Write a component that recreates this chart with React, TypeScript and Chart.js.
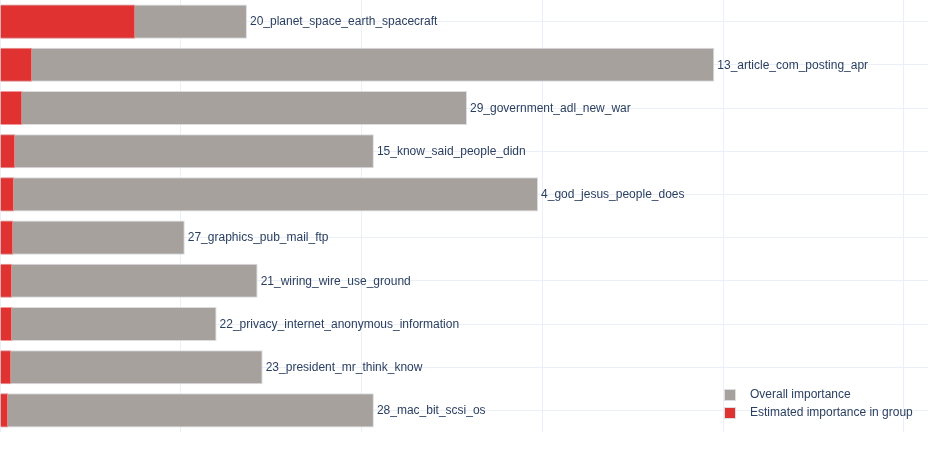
import React, { useEffect, useRef } from "react";
import { Chart, registerables } from "chart.js";

Chart.register(...registerables);

const topics = [
  "20_planet_space_earth_spacecraft",
  "13_article_com_posting_apr",
  "29_government_adl_new_war",
  "15_know_said_people_didn",
  "4_god_jesus_people_does",
  "27_graphics_pub_mail_ftp",
  "21_wiring_wire_use_ground",
  "22_privacy_internet_anonymous_information",
  "23_president_mr_think_know",
  "28_mac_bit_scsi_os",
];

const overallImportance = [0.1366, 0.3951, 0.2583, 0.2068, 0.2976, 0.1022, 0.1425, 0.1198, 0.1453, 0.2068];
const groupImportance = [0.0748, 0.0178, 0.0123, 0.0084, 0.0078, 0.0073, 0.0067, 0.0067, 0.0062, 0.0045];

const xTicks = [0, 0.1, 0.2, 0.3, 0.4, 0.5];
const xMax = 0.5133;

const GRAY = "rgb(166,161,156)";
const RED = "rgb(225,50,50)";
const TEXT = "#2a3f5f";
const FONT = '12px "Liberation Sans", Arial, sans-serif';

const labelPlugin = {
  id: "barLabels",
  afterDatasetsDraw(chart: any) {
    const ctx = chart.ctx;
    const xs = chart.scales.x;
    const ys = chart.scales.y;
    ctx.save();
    ctx.font = FONT;
    ctx.fillStyle = TEXT;
    ctx.textBaseline = "middle";
    ctx.textAlign = "left";
    topics.forEach((t, i) => {
      const x = xs.getPixelForValue(overallImportance[i]) + 3;
      const y = ys.getPixelForValue(i);
      ctx.fillText(t, x, y + 0.5);
    });
    ctx.restore();
  },
};

const legendPlugin = {
  id: "insideLegend",
  afterDraw(chart: any) {
    const ctx = chart.ctx;
    const items = [
      { label: "Overall importance", color: GRAY },
      { label: "Estimated importance in group", color: RED },
    ];
    ctx.save();
    ctx.font = FONT;
    ctx.textBaseline = "middle";
    ctx.textAlign = "left";
    items.forEach((it, i) => {
      const cy = 395 + i * 18;
      ctx.fillStyle = it.color;
      ctx.fillRect(724, cy - 6, 12, 12);
      ctx.strokeStyle = "rgba(220,222,228,1)";
      ctx.lineWidth = 1;
      ctx.strokeRect(724.5, cy - 5.5, 11, 11);
      ctx.fillStyle = TEXT;
      ctx.fillText(it.label, 750, cy);
    });
    ctx.restore();
  },
};

export default function App() {
  const ref = useRef<HTMLCanvasElement | null>(null);
  useEffect(() => {
    document.body.style.margin = "0";
    const chart = new Chart(ref.current as HTMLCanvasElement, {
      type: "bar",
      data: {
        labels: topics,
        datasets: [
          {
            label: "Overall importance",
            data: overallImportance,
            backgroundColor: GRAY,
            borderColor: "rgba(218,220,226,1)",
            borderWidth: 1,
            order: 2,
          },
          {
            label: "Estimated importance in group",
            data: groupImportance,
            backgroundColor: RED,
            borderColor: "rgba(240,150,150,1)",
            borderWidth: 1,
            order: 1,
          },
        ],
      },
      options: {
        indexAxis: "y",
        responsive: false,
        animation: false,
        layout: { padding: { top: 0, bottom: 18, left: 0, right: 0 } },
        datasets: { bar: { barPercentage: 1, categoryPercentage: 0.79 } },
        plugins: {
          legend: { display: false },
          tooltip: { enabled: false },
        },
        scales: {
          x: {
            min: 0,
            max: xMax,
            afterBuildTicks: (axis: any) => {
              axis.ticks = xTicks.map((v) => ({ value: v }));
            },
            ticks: { display: false },
            grid: { color: "#EBF0F8", drawTicks: false, lineWidth: 1 },
            border: { display: false },
          },
          y: {
            stacked: true,
            ticks: { display: false },
            grid: { color: "#EBF0F8", drawTicks: false, offset: false },
            border: { display: false },
          },
        },
      } as any,
      plugins: [labelPlugin, legendPlugin],
    });
    return () => chart.destroy();
  }, []);
  return (
    <div style={{ position: "absolute", left: 0, top: 0, width: 928, height: 450, background: "#fff" }}>
      <canvas ref={ref} width={928} height={450} />
    </div>
  );
}
